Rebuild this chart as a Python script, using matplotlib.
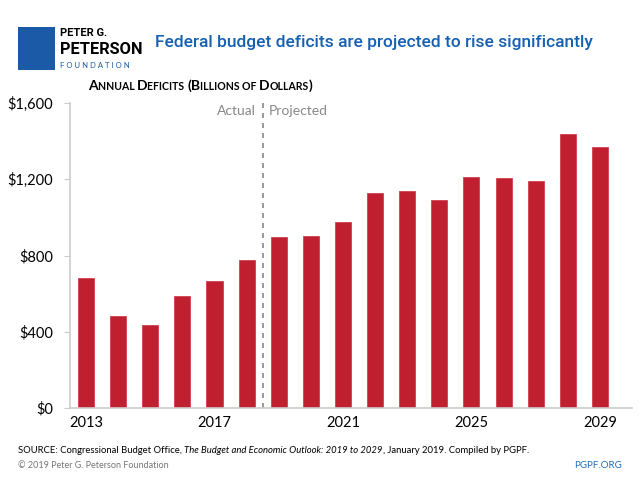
import numpy as np
import matplotlib.pyplot as plt
from matplotlib.patches import Rectangle

years = list(range(2013, 2030))
deficits = [680, 485, 438, 585, 665, 779, 897, 903, 974, 1128, 1139, 1091, 1213, 1205, 1192, 1437, 1370]
ytick_vals = [0, 400, 800, 1200, 1600]
ytick_labels = ['$0', '$400', '$800', '$1,200', '$1,600']
xtick_vals = [2013, 2017, 2021, 2025, 2029]

plt.rcParams['font.family'] = ['Lato', 'DejaVu Sans']

fig = plt.figure(figsize=(6.4, 4.8), dpi=100)
ax = fig.add_axes([70/640, 1 - 408/480, 562/640, 305/480])
renderer = fig.canvas.get_renderer()


def run_text(x, y, pieces, **kw):
    # draw text pieces one after another on the same baseline (figure pixels)
    for s, props in pieces:
        t = fig.text(x / 640, 1 - y / 480, s, va='baseline', **kw, **props)
        x += t.get_window_extent(renderer).width


ax.bar(years, deficits, width=0.5, color='#c01f30', edgecolor='#d04050', linewidth=0.6, zorder=2)

ax.set_xlim(2012.5, 2030)
ax.set_ylim(0, 1600)
ax.set_yticks(ytick_vals)
ax.set_yticklabels(ytick_labels, fontsize=10.5)
ax.set_xticks(xtick_vals)
ax.set_xticklabels([str(x) for x in xtick_vals], fontsize=10.5)
ax.tick_params(axis='x', length=0, pad=6)
ax.tick_params(axis='y', length=4, color='#cccccc', pad=8)
for s in ['top', 'right']:
    ax.spines[s].set_visible(False)
ax.spines['left'].set_color('#cccccc')
ax.spines['bottom'].set_color('#cccccc')
ax.spines['left'].set_linewidth(1.2)
ax.spines['bottom'].set_linewidth(1.2)

# actual / projected divider
ax.axvline(2018.5, color='#888888', linestyle=(0, (3, 3)), linewidth=1.2, zorder=1)
ax.text(2018.3, 1560, 'Actual', ha='right', va='center', fontsize=10, color='#888888')
ax.text(2018.7, 1560, 'Projected', ha='left', va='center', fontsize=10, color='#888888')

# header
fig.patches.append(Rectangle((18/640, 1 - 70/480), 37/640, 43/480, transform=fig.transFigure,
                             facecolor='#1b5aa6', edgecolor='none'))
narrow = ['Roboto', 'DejaVu Sans']
fig.text(60/640, 1 - 33/480, 'PETER G.', fontsize=8, fontweight='bold', va='center', family=narrow)
fig.text(60/640, 1 - 50/480, 'PETERSON', fontsize=11.8, fontweight='bold', va='center', family=narrow)
fig.text(60/640, 1 - 65/480, 'F O U N D A T I O N', fontsize=5.5, va='center', color='#1b5aa6')
fig.text(155/640, 1 - 42/480, 'Federal budget deficits are projected to rise significantly',
         fontsize=12.5, fontweight='medium', color='#1560b0', va='center', family=narrow)

# small caps subtitle
big, small = {'fontsize': 10}, {'fontsize': 7.6}
run_text(88, 90, [('A', big), ('NNUAL ', small), ('D', big), ('EFICITS ', small),
                  ('(B', big), ('ILLIONS ', small), ('OF ', small), ('D', big), ('OLLARS', small),
                  (')', big)], fontweight='bold')

# footer
run_text(18, 453, [('SOURCE: Congressional Budget Office, ', {}),
                   ('The Budget and Economic Outlook: 2019 to 2029', {'style': 'italic'}),
                   (', January 2019. Compiled by PGPF.', {})], fontsize=6.8)
fig.text(18/640, 1 - 465/480, '\u00a9 2019 Peter G. Peterson Foundation', fontsize=6.5, va='center', color='#777777')
fig.text(622/640, 1 - 465/480, 'PGPF.ORG', fontsize=7, va='center', ha='right', color='#1b6fc0')

fig.savefig('out.png', dpi=100)
